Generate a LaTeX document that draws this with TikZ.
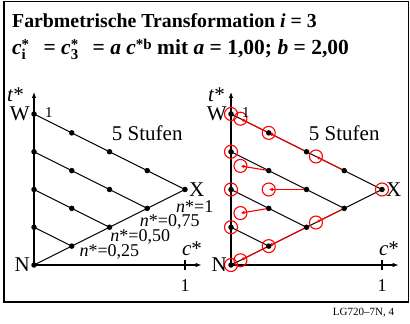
\documentclass[tikz,border=0pt]{standalone}
\usepackage{fontspec}
\setmainfont{Liberation Serif}
\usetikzlibrary{arrows.meta}

\newcommand{\fs}[1]{\fontsize{#1}{#1}\selectfont}
\newcommand{\cstar}[1]{\textit{c}\rlap{\raisebox{-0.5ex}{\fs{15}#1}}\raisebox{0.6ex}{\fs{15}*}}

\begin{document}
\begin{tikzpicture}[
    x=1pt, y=1pt,
    gridline/.style={line width=1.1pt},
    axisline/.style={line width=1.1pt, -{Latex[length=6pt,width=4.5pt]}},
    dot/.style={circle, fill=black, inner sep=0pt, minimum size=5.5pt},
    ring/.style={circle, draw=red, line width=1.1pt, inner sep=0pt, minimum size=13pt},
    move/.style={red, line width=1.1pt, -{Latex[length=4pt,width=3.5pt]}},
    lab/.style={font=\fs{21}, inner sep=1pt},
    nlab/.style={font=\fs{18}, inner sep=0pt, anchor=west}
]
    \useasboundingbox (0,0) rectangle (410,324);
    \draw[line width=1.2pt] (4,22) rectangle (408.5,322.5);

    % Title
    \node[anchor=base west, inner sep=0pt, font=\fs{19.8}\bfseries] (title) at (12,296)
        {Farbmetrische Transformation \textit{i} = 3};
    \node[anchor=base west, inner sep=0pt, font=\fs{21.5}\bfseries] (formula) at (12,269)
        {\cstar{i}\hspace{9pt} = \cstar{3}\hspace{9pt} = \textit{a c}\raisebox{0.6ex}{\fs{15}*b} mit \textit{a} = 1,00; \textit{b} = 2,00};

    % Left diagram: 5 steps
    \begin{scope}[shift={(34pt,59pt)}, x=151pt, y=151pt]
        \foreach \n in {0,...,4}
            \foreach \i in {0,...,\n}
                \coordinate (L\n\i) at (\i/4, {(2*\n-\i)/8});
        \coordinate (Ltop) at (0,1.146);
        \coordinate (Lend) at (1.11,0);
        \coordinate (Ltickt) at (1,0.036);
        \coordinate (Ltickb) at (1,-0.036);

        \draw[axisline] (L00) -- (Ltop);
        \draw[axisline] (L00) -- (Lend);
        \draw[gridline] (Ltickt) -- (Ltickb);
        \foreach \n in {1,...,4}
            \draw[gridline] (L\n0) -- (L\n\n);
        \draw[gridline] (L00) -- (L44);
        \foreach \n in {0,...,4}
            \foreach \i in {0,...,\n}
                \node[dot] (Ld\n\i) at (L\n\i) {};

        \node[lab, left, xshift=-3pt] (Lw) at (L40) {W};
        \node[lab, left, xshift=-3pt] (Ln) at (L00) {N};
        \node[lab, right, xshift=3pt] (Lx) at (L44) {X};
        \node[font=\fs{15}, right, inner sep=0pt, xshift=11pt, yshift=1pt] (Lone) at (L40) {1};
        \node[lab, left, xshift=-9pt, yshift=-3pt] (Lt) at (Ltop) {\textit{t}*};
        \node[lab] (Lc) at (1.046,0.106) {\textit{c}*};
        \node[font=\fs{18}, inner sep=0pt] (Ltick) at (1,-0.135) {1};
        \node[lab] (Lsteps) at (0.75,0.875) {5 Stufen};

        % n* labels
        \node[nlab] (Ln4) at (0.94,0.385) {\textit{n}*=1};
        \node[nlab] (Ln3) at (0.70,0.285) {\textit{n}*=0,75};
        \node[nlab] (Ln2) at (0.505,0.185) {\textit{n}*=0,50};
        \node[nlab] (Ln1) at (0.30,0.086) {\textit{n}*=0,25};
    \end{scope}

    % Right diagram: transformed
    \begin{scope}[shift={(231pt,59pt)}, x=151pt, y=151pt]
        \foreach \n in {0,...,4}
            \foreach \i in {0,...,\n} {
                \pgfmathsetmacro\cc{\i/4}
                \pgfmathsetmacro\ww{\n/4-\cc}
                \coordinate (R\n\i) at (\cc, {(2*\n-\i)/8});
                \coordinate (Rq\n\i) at ({\cc*\cc}, {\ww*(1+\cc)+\cc*\cc/2});
            }
        \coordinate (Rtop) at (0,1.146);
        \coordinate (Rend) at (1.11,0);
        \coordinate (Rtickt) at (1,0.036);
        \coordinate (Rtickb) at (1,-0.036);

        \draw[axisline] (R00) -- (Rtop);
        \draw[axisline] (R00) -- (Rend);
        \draw[gridline] (Rtickt) -- (Rtickb);
        \foreach \n in {1,...,4}
            \draw[gridline] (R\n0) -- (R\n\n);
        \draw[gridline] (R00) -- (R44);
        \foreach \n/\i in {1/1,2/1,2/2,3/1,3/2,3/3,4/1,4/2,4/3}
            \draw[move] (R\n\i) -- (Rq\n\i);
        \foreach \n in {0,...,4}
            \foreach \i in {0,...,\n}
                \node[dot] (Rd\n\i) at (R\n\i) {};
        \foreach \n in {0,...,4}
            \foreach \i in {0,...,\n}
                \node[ring] (Rr\n\i) at (Rq\n\i) {};

        \node[lab, left, xshift=-3pt] (Rw) at (R40) {W};
        \node[lab, left, xshift=-3pt] (Rn) at (R00) {N};
        \node[lab, right, xshift=3pt] (Rx) at (R44) {X};
        \node[font=\fs{15}, right, inner sep=0pt, xshift=11pt, yshift=1pt] (Rone) at (R40) {1};
        \node[lab, left, xshift=-5pt, yshift=-3pt] (Rt) at (Rtop) {\textit{t}*};
        \node[lab] (Rc) at (1.046,0.106) {\textit{c}*};
        \node[font=\fs{18}, inner sep=0pt] (Rtick) at (1,-0.135) {1};
        \node[lab] (Rsteps) at (0.75,0.875) {5 Stufen};
    \end{scope}

    \node[font=\fs{11}, inner sep=0pt] (foot) at (363.5,11) {LG720–7N, 4};
\end{tikzpicture}
\end{document}
